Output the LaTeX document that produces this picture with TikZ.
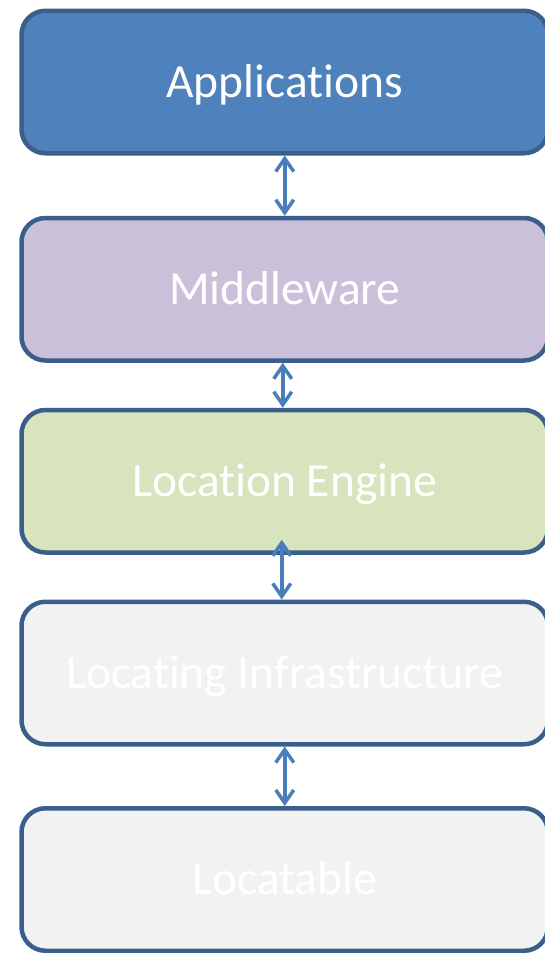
\documentclass[tikz,border=0pt]{standalone}
\usepackage{fontspec}
\setmainfont[Ligatures={NoCommon}]{Carlito}
\usetikzlibrary{arrows.meta}
\definecolor{borderc}{HTML}{3A5F8B}
\definecolor{appc}{HTML}{4F81BD}
\definecolor{midc}{HTML}{CBC0DA}
\definecolor{engc}{HTML}{D7E4BD}
\definecolor{grayc}{HTML}{F2F2F2}
\definecolor{arrc}{HTML}{4A7EBB}
\tikzset{
  layer/.style={draw=borderc, line width=4.5pt, rounded corners=24pt,
    minimum width=526.5pt, minimum height=142.5pt, inner sep=0pt,
    text height=30pt, text depth=0pt,
    text=white, font=\fontsize{47.5}{52}\selectfont},
  arr/.style={draw=arrc, line width=3.5pt,
    {Straight Barb[length=13pt,width=18pt]}-{Straight Barb[length=13pt,width=18pt]}}
}
\begin{document}
\begin{tikzpicture}[x=1pt,y=-1pt]
\useasboundingbox (0,0) rectangle (545,953);
\node[layer, fill=appc] (app) at (284.75,82) {Applications};
\node[layer, fill=midc] (mid) at (284.75,289.25) {Middleware};
\node[layer, fill=engc] (eng) at (284.75,481.25) {Location Engine};
\node[layer, fill=grayc] (infra) at (284.75,673) {Locating Infrastructure};
\node[layer, fill=grayc] (loc) at (284.75,879.5) {Locatable};
\draw[arr] (app.south) -- (mid.north);
\draw[arr] ([xshift=-2pt]mid.south) -- ([xshift=-2pt]eng.north);
\draw[arr] ([xshift=-3pt,yshift=15pt]eng.south) -- ([xshift=-3pt]infra.north);
\draw[arr] (infra.south) -- (loc.north);
\end{tikzpicture}
\end{document}
